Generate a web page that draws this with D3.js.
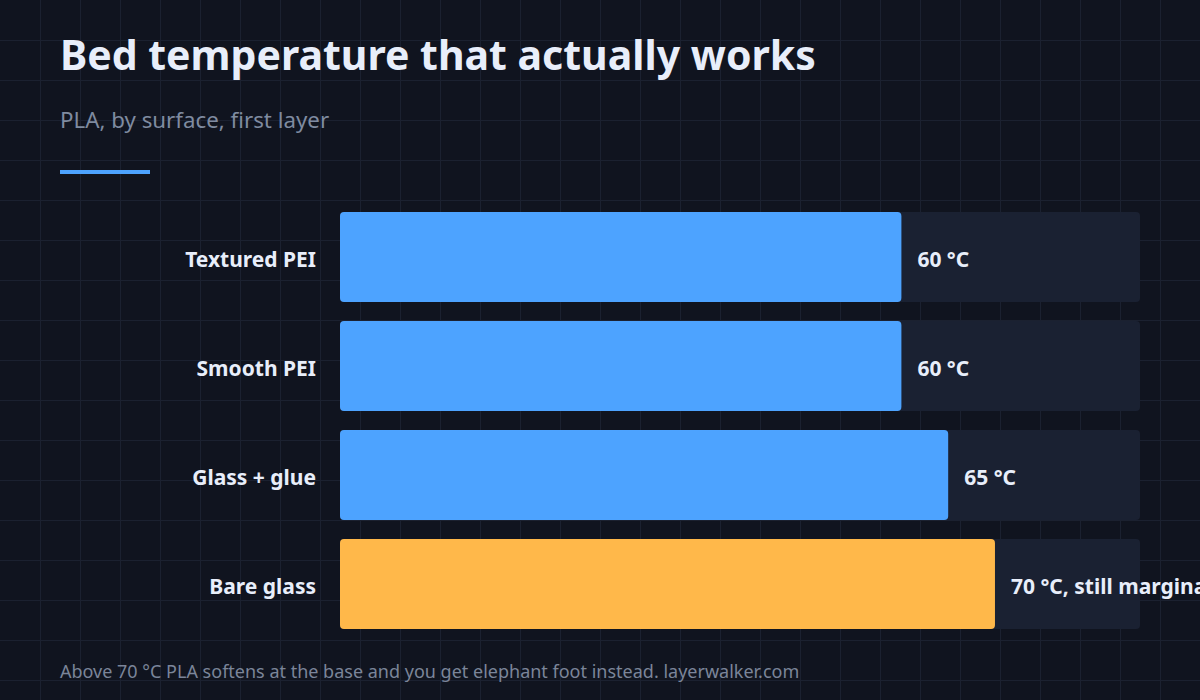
<!DOCTYPE html>
<html>
<head>
<meta charset="utf-8">
<script src="https://cdn.jsdelivr.net/npm/d3@7"></script>
<style>
  html, body { margin: 0; padding: 0; background: #10141f; }
  svg { display: block; font-family: "Noto Sans", "Open Sans", sans-serif; }
</style>
</head>
<body>
<div id="chart"></div>
<script>
var surfaces = ["Textured PEI", "Smooth PEI", "Glass + glue", "Bare glass"];
var temps = [60, 60, 65, 70];
var valueLabels = ["60 °C", "60 °C", "65 °C", "70 °C, still marginal"];
var highlight = [false, false, false, true];

var width = 1200;
var height = 700;

var svg = d3.select("#chart")
    .append("svg")
    .attr("width", width)
    .attr("height", height);

svg.append("rect")
    .attr("width", width)
    .attr("height", height)
    .attr("fill", "#10141f");

// background grid, every 40px
var grid = svg.append("g").attr("stroke", "#1b2130").attr("stroke-width", 1);
d3.range(40, width, 40).forEach(function(x) {
    grid.append("line").attr("x1", x + 0.5).attr("x2", x + 0.5).attr("y1", 0).attr("y2", height);
});
d3.range(40, height, 40).forEach(function(y) {
    grid.append("line").attr("x1", 0).attr("x2", width).attr("y1", y + 0.5).attr("y2", y + 0.5);
});

svg.append("text")
    .attr("x", 60)
    .attr("y", 70)
    .attr("fill", "#e8eefa")
    .attr("font-size", "41px")
    .attr("font-weight", 700)
    .text("Bed temperature that actually works");

svg.append("text")
    .attr("x", 60)
    .attr("y", 128)
    .attr("fill", "#7f8ba0")
    .attr("font-size", "22.3px")
    .text("PLA, by surface, first layer");

svg.append("rect")
    .attr("x", 60)
    .attr("y", 170)
    .attr("width", 90)
    .attr("height", 4)
    .attr("fill", "#4da3ff");

var data = surfaces.map(function(s, i) {
    return { name: s, value: temps[i], label: valueLabels[i], hot: highlight[i] };
});

var xScale = d3.scaleLinear()
    .domain([0, 85.5])
    .range([340, 1140]);

var yScale = d3.scaleBand()
    .domain(surfaces)
    .range([212, 629])
    .paddingInner(0.1743)
    .paddingOuter(0);

var rows = svg.selectAll(".row")
    .data(data)
    .enter()
    .append("g")
    .attr("class", "row");

rows.append("rect")
    .attr("x", xScale(0))
    .attr("y", function(d) { return yScale(d.name); })
    .attr("width", xScale.range()[1] - xScale(0))
    .attr("height", yScale.bandwidth())
    .attr("rx", 4)
    .attr("fill", "#1a2132");

rows.append("rect")
    .attr("x", xScale(0))
    .attr("y", function(d) { return yScale(d.name); })
    .attr("width", function(d) { return xScale(d.value) - xScale(0); })
    .attr("height", yScale.bandwidth())
    .attr("rx", 4)
    .attr("fill", function(d) { return d.hot ? "#ffb84a" : "#4da3ff"; });

rows.append("text")
    .attr("x", 316)
    .attr("y", function(d) { return yScale(d.name) + yScale.bandwidth() / 2; })
    .attr("dy", "0.48em")
    .attr("text-anchor", "end")
    .attr("fill", "#e8eefa")
    .attr("font-size", "21px")
    .attr("font-weight", 700)
    .text(function(d) { return d.name; });

rows.append("text")
    .attr("x", function(d) { return xScale(d.value) + 16; })
    .attr("y", function(d) { return yScale(d.name) + yScale.bandwidth() / 2; })
    .attr("dy", "0.48em")
    .attr("fill", "#e8eefa")
    .attr("font-size", "21px")
    .attr("font-weight", 700)
    .text(function(d) { return d.label; });

svg.append("text")
    .attr("x", 60)
    .attr("y", 678)
    .attr("fill", "#7b8599")
    .attr("font-size", "18px")
    .text("Above 70 °C PLA softens at the base and you get elephant foot instead. layerwalker.com");
</script>
</body>
</html>
